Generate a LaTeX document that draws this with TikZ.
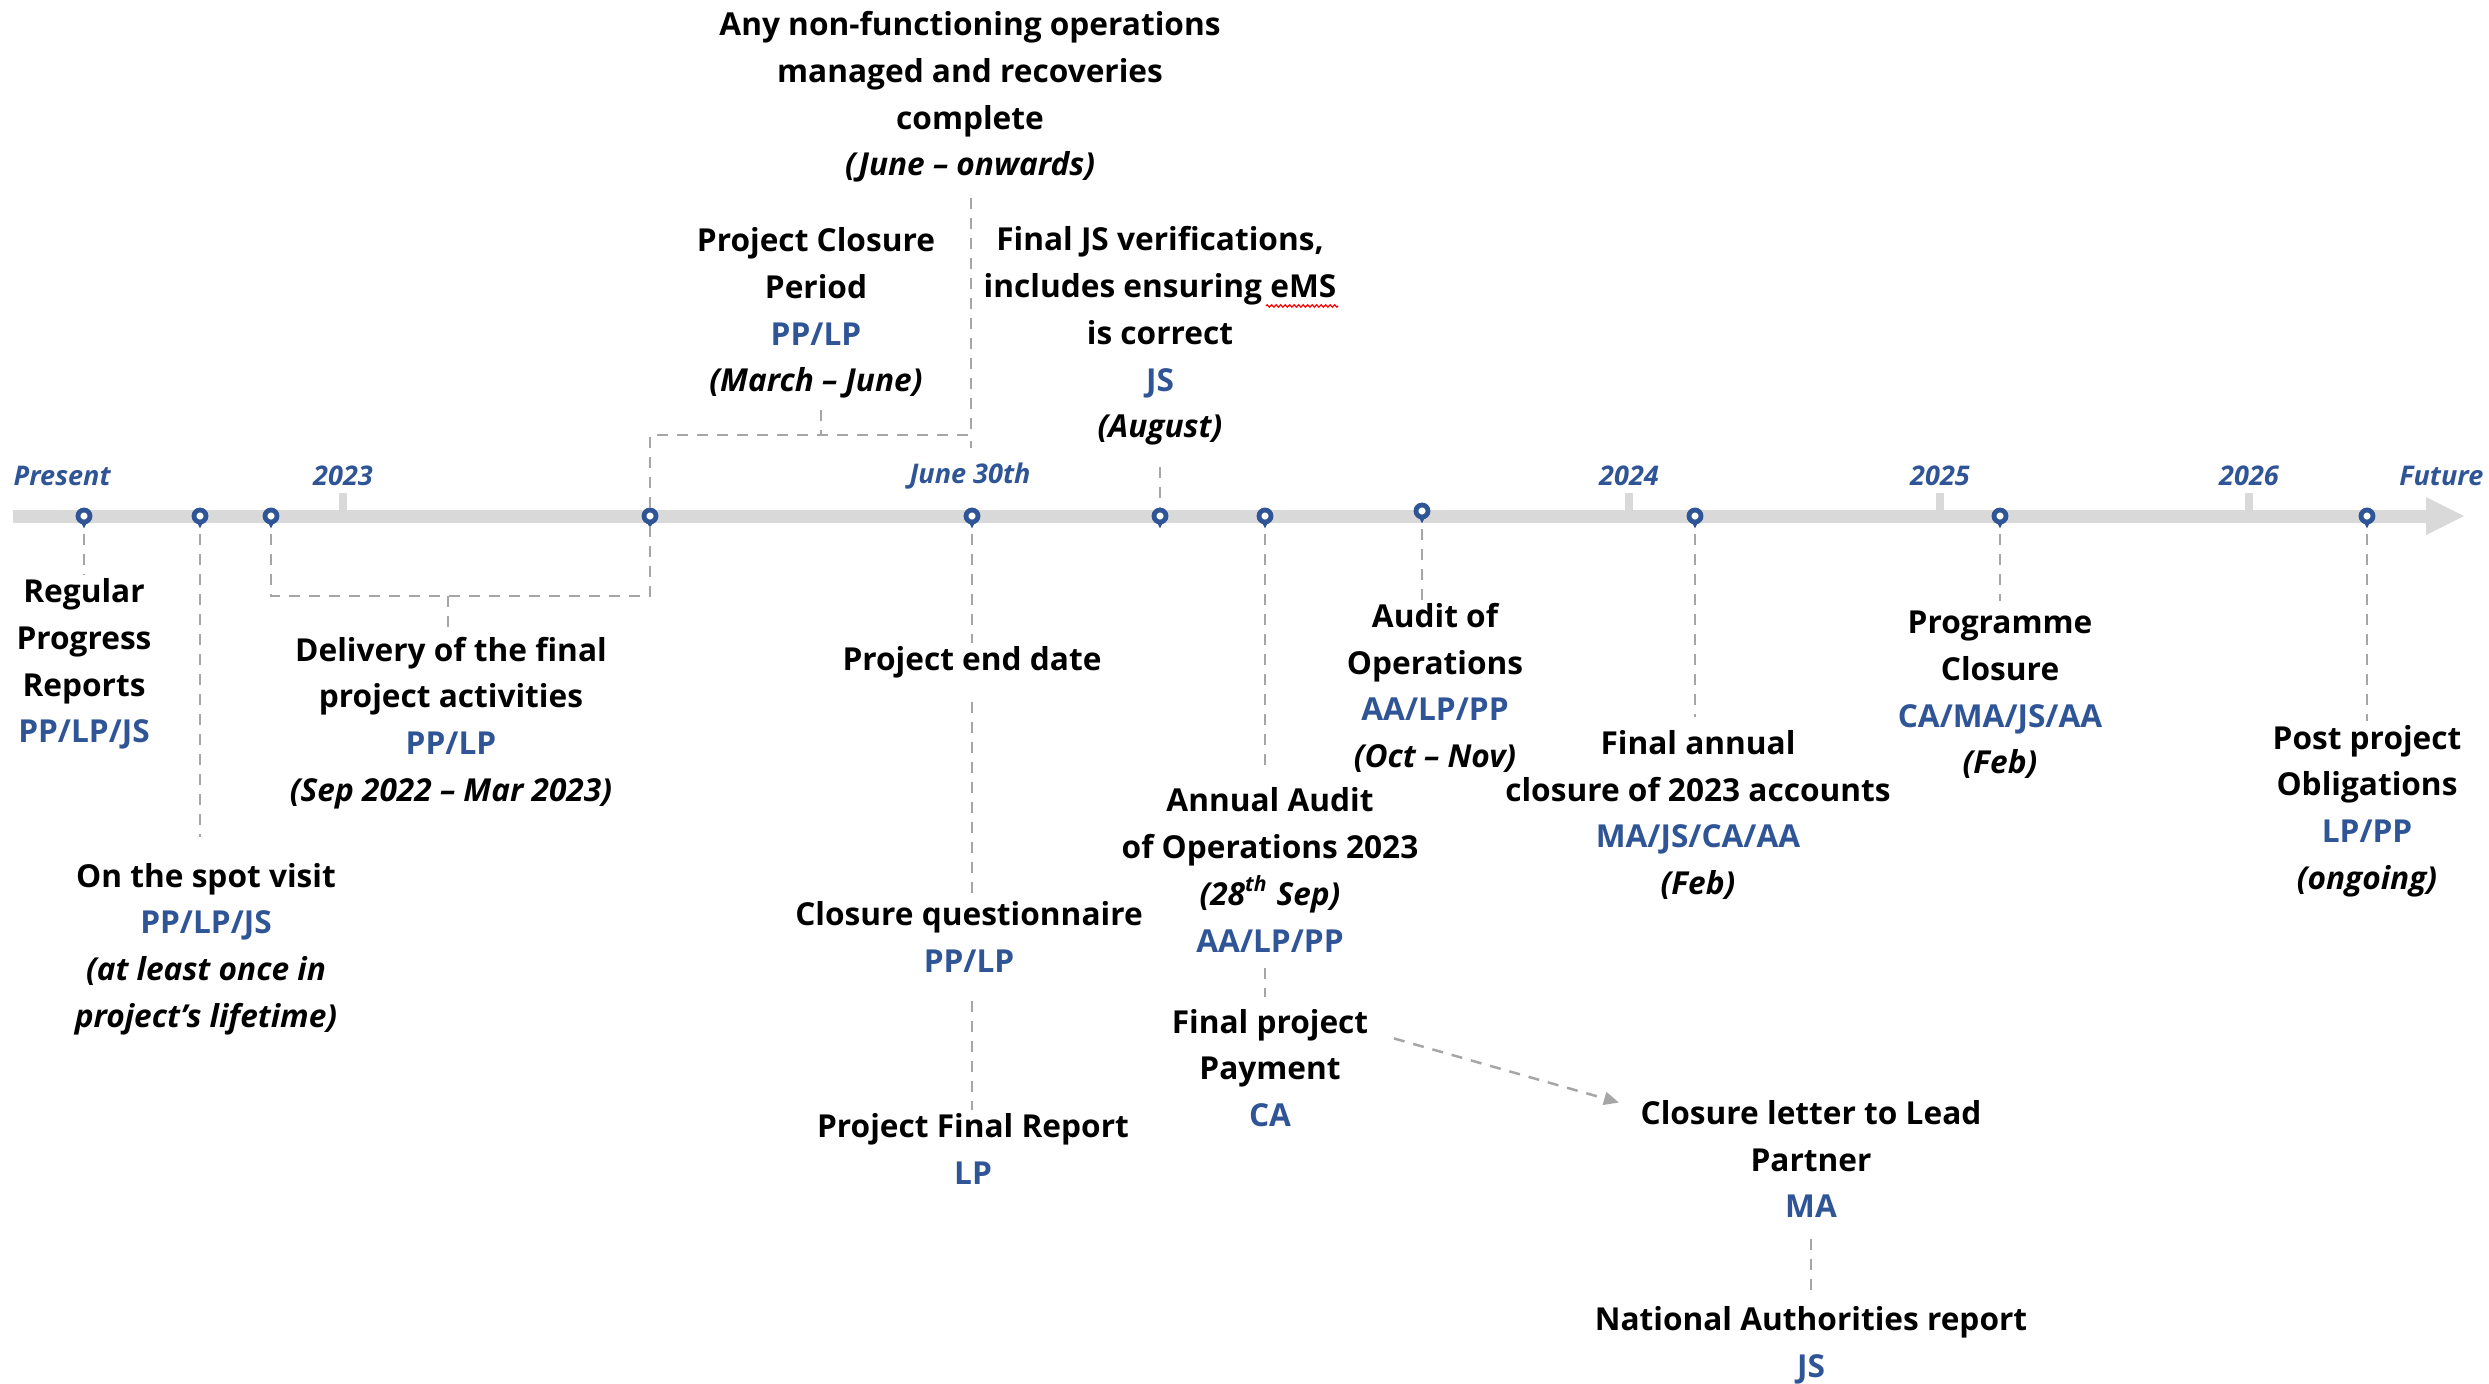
\documentclass[tikz,border=0pt]{standalone}
\usepackage{fontspec}
\setmainfont{Open Sans}
\usetikzlibrary{arrows.meta,calc,decorations.pathmorphing}
\definecolor{roleblue}{HTML}{2F5597}
\definecolor{axisgrey}{HTML}{D9D9D9}
\definecolor{dashgrey}{HTML}{A6A6A6}
\newcommand\role[1]{\textcolor{roleblue}{#1}}
\newcommand\when[1]{\textit{#1}}
\begin{document}
\begin{tikzpicture}[x=0.1mm,y=-0.1mm,
  txt/.style={align=center,font=\fontsize{9}{13.3}\selectfont\bfseries,inner sep=0.3mm,text=black},
  axlab/.style={font=\fontsize{7.7}{9}\selectfont\bfseries\itshape,text=roleblue,inner sep=0},
  mk/.style={circle,draw=roleblue,line width=0.48mm,fill=white,minimum size=1.2mm,inner sep=0},
  dl/.style={draw=dashgrey,line width=0.25mm,dash pattern=on 1.1mm off 0.9mm},
  axisbar/.style={fill=axisgrey},
  spell/.style={draw=red,line width=0.12mm,decorate,decoration={zigzag,amplitude=0.12mm,segment length=0.45mm}}]
\useasboundingbox (0,0) rectangle (2489,1383);
\fill[white] (0,0) rectangle (2489,1383);

% axis
\fill[axisbar] (13,510) rectangle (2426,523);
\fill[axisbar] (2426,497) -- (2464,516) -- (2426,535) -- cycle;
\foreach \x in {343,1629,1940,2249} \fill[axisbar] (\x-4,493) rectangle (\x+4,516);

% axis labels
\node[axlab,anchor=west] (lpresent) at (13,476) {Present};
\node[axlab] (l2023) at (343,476) {2023};
\node[axlab] (ljune) at (970,476) {June 30th};
\node[axlab] (l2024) at (1629,476) {2024};
\node[axlab] (l2025) at (1940,476) {2025};
\node[axlab] (l2026) at (2249,476) {2026};
\node[axlab,anchor=east] (lfuture) at (2484,476) {Future};

% markers
\foreach \n/\x/\y in {m1/84/516,m2/200/516,m3/271/516,m4/650/516,m5/972/516,m6/1160/516,m7/1265/516,m8/1422/511,m9/1695/516,m10/2000/516,m11/2367/516}{
  \node[mk] (\n) at (\x,\y) {};
  \fill[roleblue] ([xshift=-0.25mm,yshift=0.1mm]\n.south) -- ([xshift=0.25mm,yshift=0.1mm]\n.south) -- ([yshift=-0.4mm]\n.south) -- cycle;
}

% text blocks
\node[txt] (topblk) at (970,97) {Any non-functioning operations\\managed and recoveries\\complete\\\when{(June -- onwards)}};
\node[txt] (pcp) at (816,313) {Project Closure\\Period\\\role{PP/LP}\\\when{(March -- June)}};
\node[txt] (fjs) at (1160,336) {Final JS verifications,\\includes ensuring eMS\\is correct\\\role{JS}\\\when{(August)}};
\node[txt] (reg) at (84,664) {Regular\\Progress\\Reports\\\role{PP/LP/JS}};
\node[txt] (spot) at (206,949) {On the spot visit\\\role{PP/LP/JS}\\\when{(at least once in}\\\when{project’s lifetime)}};
\node[txt] (deliv) at (451,723) {Delivery of the final\\project activities\\\role{PP/LP}\\\when{(Sep 2022 -- Mar 2023)}};
\node[txt] (endd) at (972,662) {Project end date};
\node[txt] (quest) at (969,937) {Closure questionnaire\\\role{PP/LP}};
\node[txt] (frep) at (973,1149) {Project Final Report\\\role{LP}};
\node[txt] (aaud) at (1270,870) {Annual Audit\\of Operations 2023\\\when{(28\textsuperscript{th} Sep)}\\\role{AA/LP/PP}};
\node[txt] (pay) at (1270,1068) {Final project\\Payment\\\role{CA}};
\node[txt] (clet) at (1811,1159) {Closure letter to Lead\\Partner\\\role{MA}};
\node[txt] (nat) at (1811,1345) {National Authorities report\\\role{JS}};
\node[txt] (aops) at (1435,688) {Audit of\\Operations\\\role{AA/LP/PP}\\\when{(Oct -- Nov)}};
\node[txt] (fann) at (1698,815) {Final annual\\closure of 2023 accounts\\\role{MA/JS/CA/AA}\\\when{(Feb)}};
\node[txt] (prog) at (2000,695) {Programme\\Closure\\\role{CA/MA/JS/AA}\\\when{(Feb)}};
\node[txt] (post) at (2367,811) {Post project\\Obligations\\\role{LP/PP}\\\when{(ongoing)}};

% spell-check underline under eMS
\draw[spell] ([shift={(-74,83)}]fjs.north east) -- ([shift={(-2,83)}]fjs.north east);

% bracket coordinates
\coordinate (ubm) at (821,435);
\coordinate (ubt) at (971,448);
\coordinate (lbm) at (448,596);

% connectors
\draw[dl,shorten <=1mm] (m1) -- (m1 |- reg.north);
\draw[dl,shorten <=1mm,shorten >=2.2mm] (m2) -- (m2 |- spot.north);
\draw[dl,shorten <=1mm] (m3) |- (lbm) -| (m4);
\draw[dl] (lbm) -- (lbm |- deliv.north);
\draw[dl] (m4) |- (ubm) -| (ubt);
\draw[dl,shorten <=0.8mm] (ubm |- pcp.south) -- (ubm);
\draw[dl,shorten <=1.2mm] (topblk.south -| ubt) -- (ubt |- ubm);
\draw[dl,shorten <=1.8mm] (fjs.south -| m6) -- (m6);
\draw[dl,shorten <=1mm] (m5) -- (m5 |- endd.north);
\draw[dl,shorten <=2mm] (endd.south -| m5) -- (quest.north -| m5);
\draw[dl,shorten <=2.5mm] (quest.south -| m5) -- (frep.north -| m5);
\draw[dl,shorten <=1mm,shorten >=1mm] (m7) -- (m7 |- aaud.north);
\draw[dl,shorten <=1.2mm,shorten >=0.8mm] (aaud.south -| m7) -- (pay.north -| m7);
\draw[dl,-{Triangle[length=1.5mm,width=1.3mm]}] ([shift={(22,33)}]pay.north east) -- ([shift={(-18,6)}]clet.north west);
\draw[dl,shorten <=1.8mm,shorten >=0.6mm] (clet.south) -- (nat.north);
\draw[dl,shorten <=1mm] (m8) -- (m8 |- aops.north);
\draw[dl,shorten <=1mm,shorten >=1mm] (m9) -- (m9 |- fann.north);
\draw[dl,shorten <=1mm,shorten >=0.6mm] (m10) -- (m10 |- prog.north);
\draw[dl,shorten <=1mm] (m11) -- (m11 |- post.north);
\end{tikzpicture}
\end{document}
